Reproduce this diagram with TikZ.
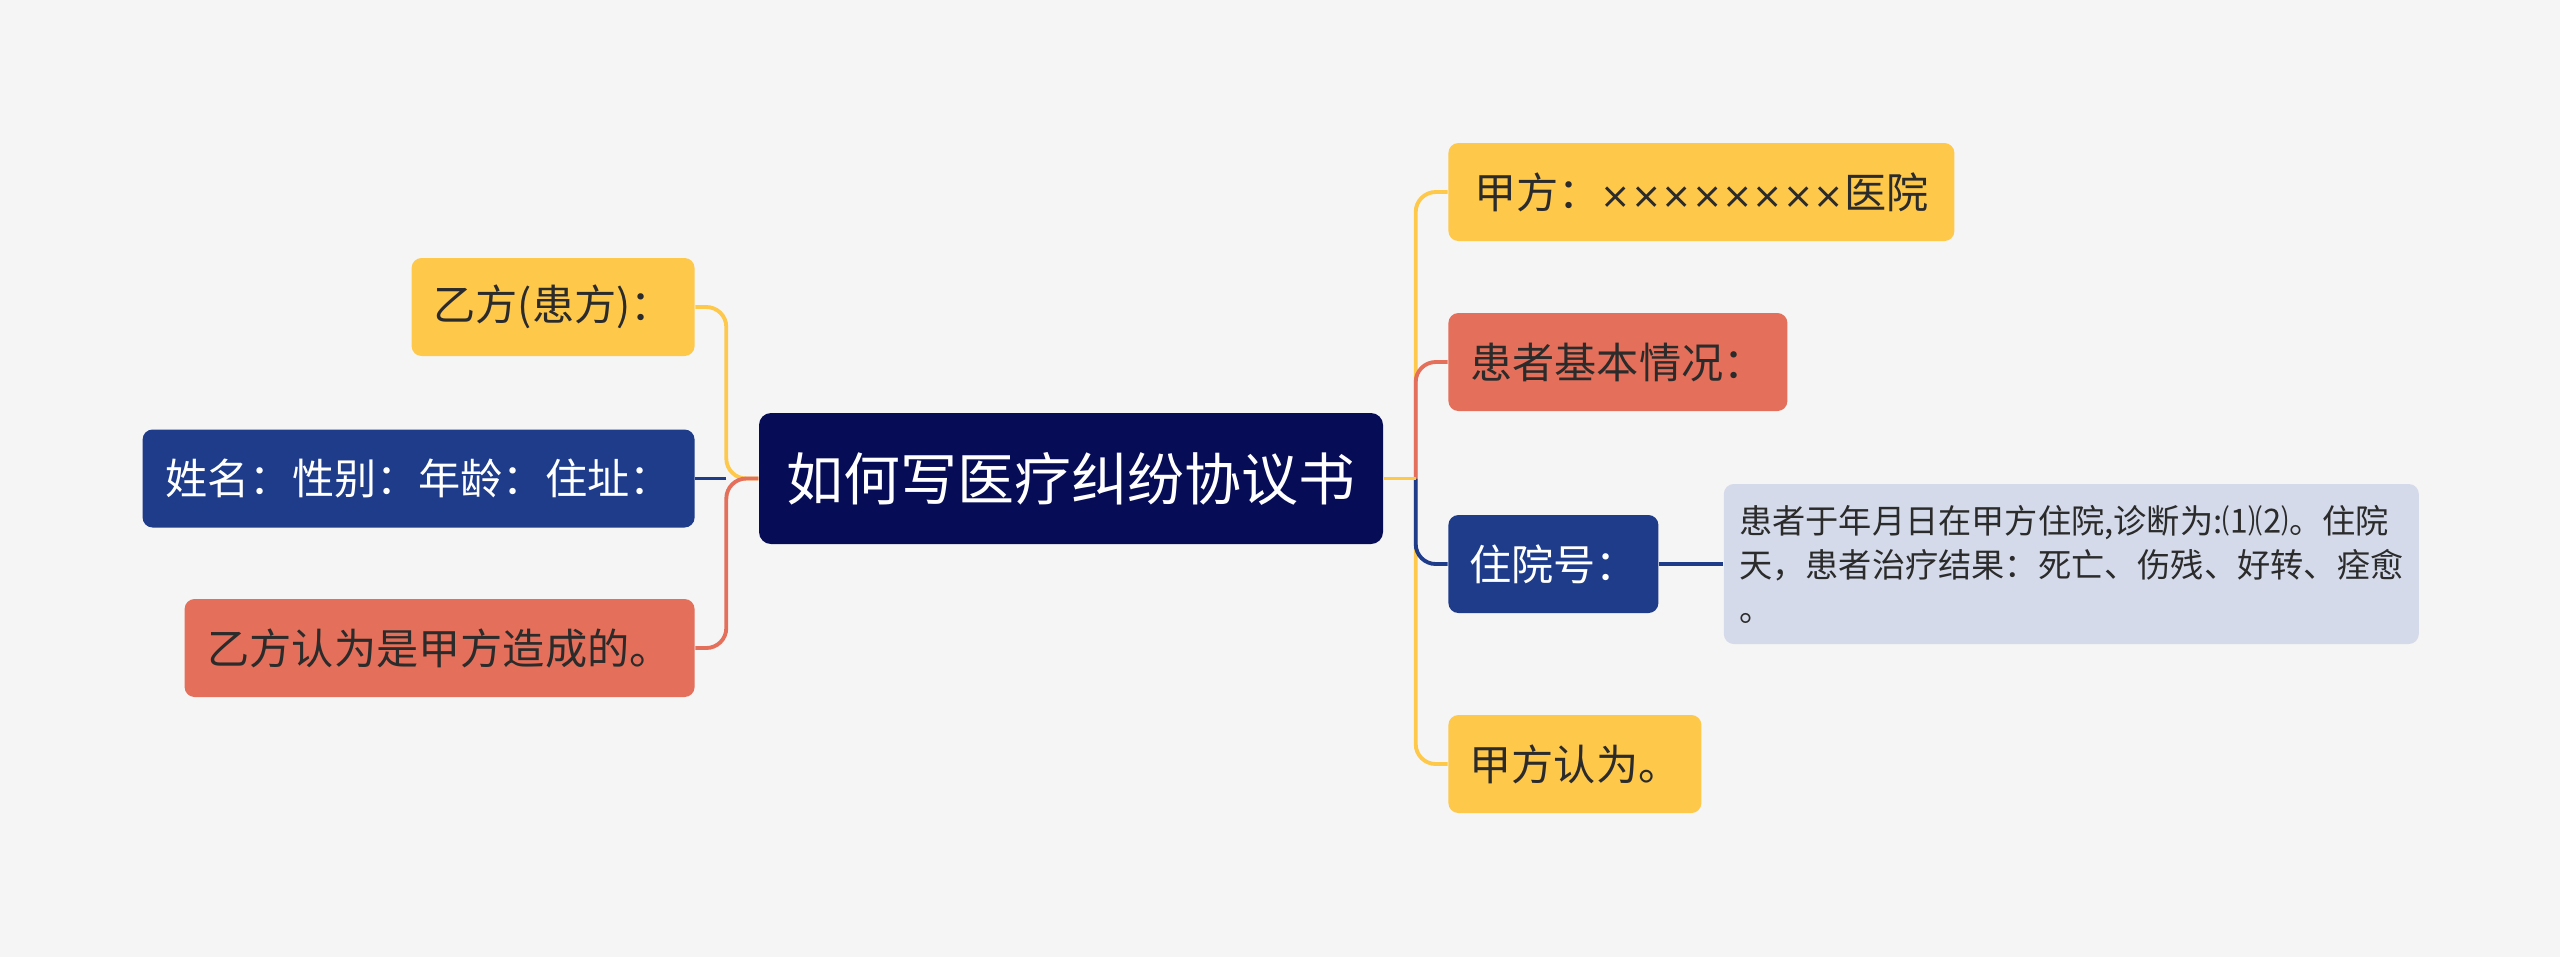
\documentclass[tikz,border=0pt]{standalone}
\usepackage{fontspec}
\setmainfont{Noto Sans CJK SC}
\newfontfamily\crossfont{DejaVu Sans}[Scale=0.86]
\usepackage{tikz}
\usetikzlibrary{positioning}
\definecolor{paper}{HTML}{F5F5F5}
\definecolor{navy} {HTML}{070C57}
\definecolor{ylw}  {HTML}{FEC84B}
\definecolor{crl}  {HTML}{E46F5A}
\definecolor{blu}  {HTML}{1E3C8A}
\definecolor{pale} {HTML}{D4DAEA}
\definecolor{ink}  {HTML}{2B2B2B}

\begin{document}
\begin{tikzpicture}[
  font=\fontsize{12}{14}\selectfont,
  leaf/.style={rounded corners=1mm, minimum height=9.8mm, inner xsep=1.6mm, align=center},
  ylwbox/.style={leaf, fill=ylw, text=ink},
  redbox/.style={leaf, fill=crl, text=ink},
  blubox/.style={leaf, fill=blu, text=white},
  link/.style={line width=1.1pt, rounded corners=2mm}
]
\fill[paper] (0,0) rectangle (25.6,-9.57);

\node[fill=navy, text=white, rounded corners=1.2mm, minimum width=62.4mm, minimum height=13.1mm,
      font=\fontsize{16.2}{20}\selectfont] (root) at (10.71,-4.785) {如何写医疗纠纷协议书};

% left side
\node[ylwbox, minimum width=28.3mm, left=6.3mm of root, yshift=17.15mm] (yf) {乙方(患方)：};
\node[blubox, minimum width=55.2mm, left=6.3mm of root] (xm) {姓名：性别：年龄：住址：};
\node[redbox, minimum width=51mm, left=6.3mm of root, yshift=-16.95mm] (yr) {乙方认为是甲方造成的。};

% right side
\node[ylwbox, minimum width=50.6mm, right=6.4mm of root, yshift=28.65mm] (jf) {甲方：{\crossfont ××××××××}医院};
\node[redbox, minimum width=33.9mm, right=6.4mm of root, yshift=11.65mm] (hz) {患者基本情况：};
\node[blubox, minimum width=21mm, right=6.4mm of root, yshift=-8.55mm] (zy) {住院号：};
\node[ylwbox, minimum width=25.3mm, right=6.4mm of root, yshift=-28.55mm] (jr) {甲方认为。};
\node[leaf, fill=pale, text=ink, minimum width=69.5mm, minimum height=16mm, align=left, inner xsep=1.3mm,
      font=\fontsize{9.45}{12.5}\selectfont, right=6.4mm of zy] (det)
     {患者于年月日在甲方住院,诊断为:⑴⑵。住院\\天，患者治疗结果：死亡、伤残、好转、痊愈\\。};

\coordinate[left=3.2mm of root.west] (lj);
\coordinate[right=3.2mm of root.east] (rj);

\draw[link, ylw] (root.west) -- (lj) |- (yf.east);
\draw[link, crl] (root.west) -- (lj) |- (yr.east);
\draw[link, blu] (lj) -- (xm.east);

\draw[link, ylw] (rj) |- (jf.west);
\draw[link, ylw] (rj) |- (jr.west);
\draw[link, crl] (rj) |- (hz.west);
\draw[link, blu] (rj) |- (zy.west);
\draw[link, ylw] (root.east) -- (rj);
\draw[link, blu] (zy.east) -- (det.west);
\end{tikzpicture}
\end{document}
